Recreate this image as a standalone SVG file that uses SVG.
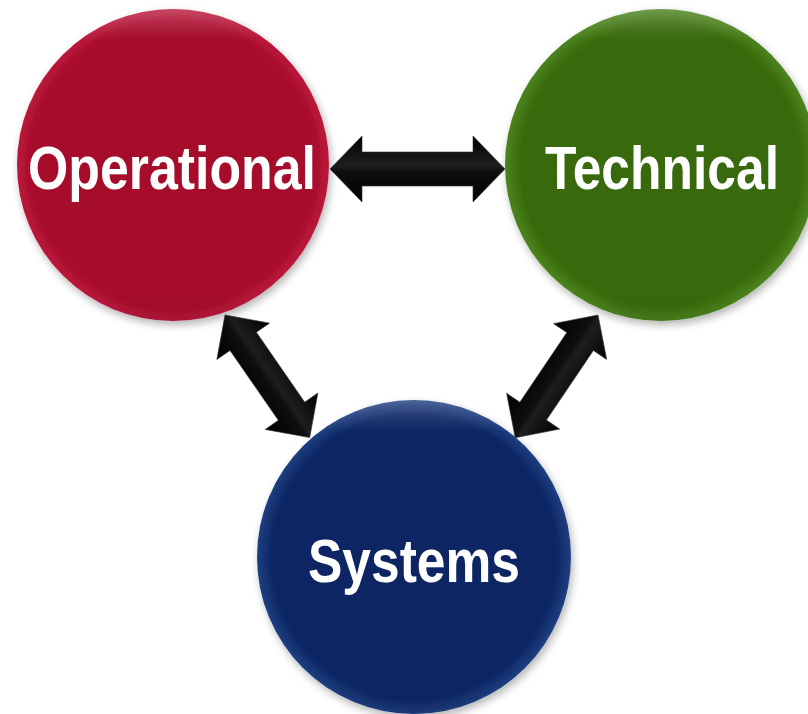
<svg xmlns="http://www.w3.org/2000/svg" width="808" height="714" viewBox="0 0 808 714">
<defs>
<filter id="sh" x="-20%" y="-20%" width="140%" height="140%">
<feGaussianBlur in="SourceAlpha" stdDeviation="4"/>
<feOffset dx="2" dy="4" result="b"/>
<feComponentTransfer><feFuncA type="linear" slope="0.3"/></feComponentTransfer>
<feMerge><feMergeNode/><feMergeNode in="SourceGraphic"/></feMerge>
</filter>
<radialGradient id="gr" cx="0.5" cy="0.5" r="0.5">
<stop offset="0.9" stop-color="#a6092a"/>
<stop offset="1" stop-color="#bb1a3c"/>
</radialGradient>
<radialGradient id="gg" cx="0.5" cy="0.5" r="0.5">
<stop offset="0.9" stop-color="#396a09"/>
<stop offset="1" stop-color="#4c8420"/>
</radialGradient>
<radialGradient id="gb" cx="0.5" cy="0.5" r="0.5">
<stop offset="0.9" stop-color="#0b2563"/>
<stop offset="1" stop-color="#1e3f80"/>
</radialGradient>
<linearGradient id="hl" x1="0" y1="0" x2="0" y2="1">
<stop offset="0" stop-color="#fff" stop-opacity="0.2"/>
<stop offset="0.1" stop-color="#fff" stop-opacity="0"/>
<stop offset="0.9" stop-color="#000" stop-opacity="0"/>
<stop offset="1" stop-color="#000" stop-opacity="0.08"/>
</linearGradient>
<linearGradient id="ar2" x1="0" y1="0" x2="0" y2="1">
<stop offset="0" stop-color="#000"/>
<stop offset="0.45" stop-color="#1e1e1e"/>
<stop offset="0.55" stop-color="#0e0e0e"/>
<stop offset="1" stop-color="#000"/>
</linearGradient>
</defs>
<style>
.lbl{font-family:"Liberation Sans",Arial,sans-serif;font-weight:bold;font-size:62px;fill:#fff}
.arr{fill:url(#ar2);stroke:#333;stroke-width:0.6}
</style>
<rect width="808" height="714" fill="#fff"/>
<g id="connectors">
<polygon class="arr" transform="translate(330,169)" points="0,0 32,-33 32,-17 143,-17 143,-33 175,0 143,33 143,17 32,17 32,33"/>
<polygon class="arr" transform="translate(225,315) rotate(55.35)" points="0,0 32,-32 32,-16 117,-16 117,-32 149,0 117,32 117,16 32,16 32,32"/>
<polygon class="arr" transform="translate(598,315) rotate(124)" points="0,0 32,-32 32,-16 116,-16 116,-32 148,0 116,32 116,16 32,16 32,32"/>
</g>
<g id="operational">
<g filter="url(#sh)"><circle cx="173" cy="165" r="156" fill="url(#gr)"/></g>
<circle cx="173" cy="165" r="156" fill="url(#hl)"/>
<text class="lbl" x="28" y="189" textLength="288" lengthAdjust="spacingAndGlyphs">Operational</text>
</g>
<g id="technical">
<g filter="url(#sh)"><circle cx="661" cy="165" r="156" fill="url(#gg)"/></g>
<circle cx="661" cy="165" r="156" fill="url(#hl)"/>
<text class="lbl" x="545" y="189" textLength="234" lengthAdjust="spacingAndGlyphs">Technical</text>
</g>
<g id="systems">
<g filter="url(#sh)"><circle cx="414" cy="557" r="157" fill="url(#gb)"/></g>
<circle cx="414" cy="557" r="157" fill="url(#hl)"/>
<text class="lbl" x="308" y="582" textLength="212" lengthAdjust="spacingAndGlyphs">Systems</text>
</g>
</svg>
